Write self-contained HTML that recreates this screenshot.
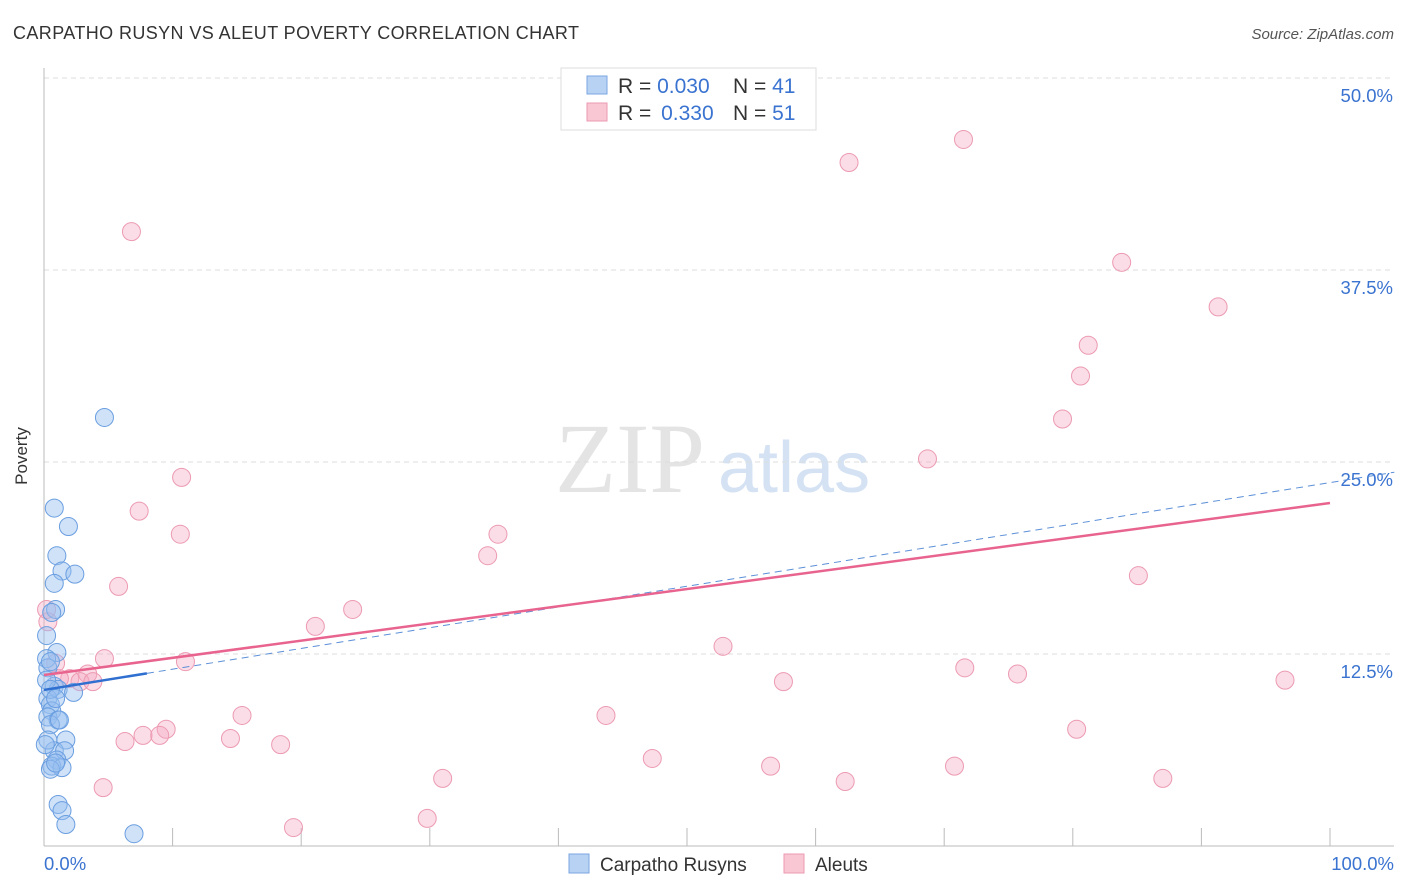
<!DOCTYPE html>
<html><head><meta charset="utf-8"><style>
body{margin:0;background:#fff;font-family:"Liberation Sans",sans-serif;}
svg{display:block}
</style></head><body>
<svg id="chart" width="1406" height="892" xmlns="http://www.w3.org/2000/svg">
<text x="13" y="39" font-size="18" fill="#333" letter-spacing="0.4">CARPATHO RUSYN VS ALEUT POVERTY CORRELATION CHART</text>
<text x="1394" y="39" font-size="15" fill="#555" font-style="italic" text-anchor="end">Source: ZipAtlas.com</text>
<text x="27" y="456" font-size="17" fill="#333" transform="rotate(-90 27 456)" text-anchor="middle">Poverty</text>
<text x="555" y="492" font-size="100" fill="#e4e4e4" font-family="Liberation Serif,serif">ZIP</text>
<text x="718" y="492" font-size="72" fill="#d4e2f4">atlas</text>
<g id="grid"></g>
<g id="pts"></g>
<g id="lines"></g>
<g>
<rect x="561" y="68" width="255" height="62" fill="#fff" stroke="#ddd"/>
<rect x="587" y="76" width="20" height="18" fill="#b8d2f4" stroke="#7aa6e0"/>
<rect x="587" y="103" width="20" height="18" fill="#f9c6d4" stroke="#ec9ab2"/>
<text x="618" y="93" font-size="21" fill="#333">R = <tspan fill="#3a73d0">0.030</tspan><tspan x="733">N = </tspan><tspan fill="#3a73d0">41</tspan></text>
<text x="618" y="120" font-size="21" fill="#333">R = <tspan fill="#3a73d0" dx="4">0.330</tspan><tspan x="733">N = </tspan><tspan fill="#3a73d0">51</tspan></text>
</g>
<g>
<rect x="569" y="854" width="20" height="19" fill="#b8d2f4" stroke="#7aa6e0"/>
<text x="600" y="871" font-size="19" fill="#333">Carpatho Rusyns</text>
<rect x="784" y="854" width="20" height="19" fill="#f9c6d4" stroke="#ec9ab2"/>
<text x="815" y="871" font-size="19" fill="#333">Aleuts</text>
</g>
</svg>
<script>
const blueX=[4.7,0.8,1.9,1.0,1.4,2.4,0.8,0.9,0.6,0.2,1.0,0.2,0.3,0.8,1.1,2.3,0.3,0.5,0.6,0.3,1.1,0.5,1.7,0.8,1.6,1.0,0.6,1.4,0.5,1.1,1.4,1.7,7.0,0.2,0.5,0.3,0.9,1.2,0.1,0.9,0.5];
const blueY=[27.9,22.0,20.8,18.9,17.9,17.7,17.1,15.4,15.2,13.7,12.6,12.2,11.6,10.4,10.2,10.0,9.6,9.2,8.8,8.4,8.2,7.9,6.9,6.2,6.2,5.6,5.2,5.1,5.0,2.7,2.3,1.4,0.8,10.8,10.2,6.9,5.4,8.2,6.6,9.6,12.0];
const pinkX=[6.8,62.6,71.5,83.8,91.3,81.2,80.6,79.2,68.7,10.7,7.4,10.6,35.3,34.5,85.1,5.8,24.0,21.1,0.3,0.2,52.8,4.7,11.0,0.9,71.6,75.7,57.5,96.5,3.4,2.0,2.8,3.8,15.4,43.7,9.5,80.3,7.7,9.0,6.3,14.5,18.4,47.3,56.5,70.8,31.0,87.0,62.3,4.6,29.8,19.4,1.2];
const pinkY=[40.0,44.5,46.0,38.0,35.1,32.6,30.6,27.8,25.2,24.0,21.8,20.3,20.3,18.9,17.6,16.9,15.4,14.3,14.6,15.4,13.0,12.2,12.0,11.9,11.6,11.2,10.7,10.8,11.2,10.9,10.7,10.7,8.5,8.5,7.6,7.6,7.2,7.2,6.8,7.0,6.6,5.7,5.2,5.2,4.4,4.4,4.2,3.8,1.8,1.2,10.9];
const yTicks=[12.5,25.0,37.5,50.0];
const trendPink=[11.13,22.33];
const trendBlue=[10.16,0.135];
const X=v=>44+v*12.86, Y=v=>846-v*15.36;
const NS="http://www.w3.org/2000/svg";
function mk(tag,attrs,parent){const e=document.createElementNS(NS,tag);for(const k in attrs)e.setAttribute(k,attrs[k]);parent.appendChild(e);return e;}
const g=document.getElementById('grid');
for(const t of yTicks){
 const l=mk('line',{x1:44,x2:1394,y1:Y(t),y2:Y(t),stroke:'#ddd','stroke-dasharray':'5,4'},g);
 
 
 const tx=mk('text',{x:1393,y:Y(t)+24,'font-size':18.5,fill:'#3a73d0','text-anchor':'end'},g);
 tx.textContent=t.toFixed(1)+'%';
 
 
}
const ax=mk('line',{x1:44,x2:44,y1:68,y2:846,stroke:'#bbb'},g);


const bx=mk('line',{x1:44,x2:1394,y1:846,y2:846,stroke:'#bbb'},g);


for(let i=1;i<=10;i++){const tk=mk('line',{x1:X(i*10),x2:X(i*10),y1:828,y2:846,stroke:'#bbb'},g);
 
 }
const x0=mk('text',{x:44,y:870,'font-size':18.5,fill:'#3a73d0'},g);x0.textContent='0.0%';


const x1=mk('text',{x:1394,y:870,'font-size':18.5,fill:'#3a73d0','text-anchor':'end'},g);x1.textContent='100.0%';


const p=document.getElementById('pts');
pinkX.forEach((v,i)=>{const c=mk('circle',{cx:X(v),cy:Y(pinkY[i]),r:9,fill:'rgba(246,170,195,0.4)',stroke:'#ec9ab2','stroke-width':1},p);
 
 });
blueX.forEach((v,i)=>{const c=mk('circle',{cx:X(v),cy:Y(blueY[i]),r:9,fill:'rgba(150,190,240,0.45)',stroke:'#6a9ee0','stroke-width':1},p);
 
 });
const L=document.getElementById('lines');
const bd=mk('line',{x1:X(8),y1:Y(trendBlue[0]+8*trendBlue[1]),x2:X(105),y2:Y(trendBlue[0]+105*trendBlue[1]),stroke:'#5b8fd8','stroke-width':1,'stroke-dasharray':'7,5'},L);


const pl=mk('line',{x1:X(0),y1:Y(trendPink[0]),x2:X(100),y2:Y(trendPink[1]),stroke:'#e8648f','stroke-width':2.5},L);


const bl=mk('line',{x1:X(0),y1:Y(trendBlue[0]),x2:X(8),y2:Y(trendBlue[0]+8*trendBlue[1]),stroke:'#2f6fd0','stroke-width':2.5},L);


</script>
</body></html>
